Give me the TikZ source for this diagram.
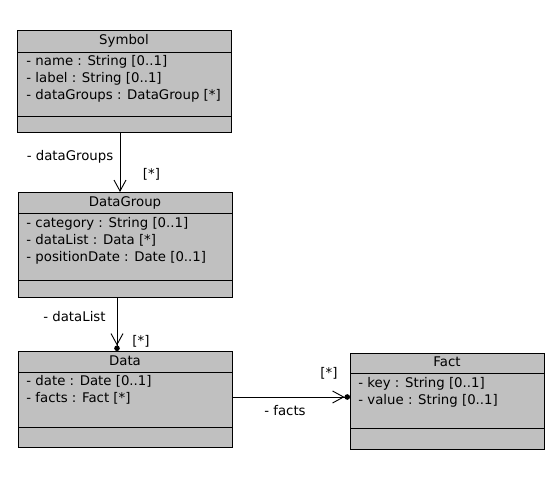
\documentclass[tikz,border=0pt]{standalone}
\usepackage{fontspec}
\setmainfont{DejaVu Sans}
\usetikzlibrary{arrows.meta}
\definecolor{umlgray}{HTML}{C0C0C0}
\begin{document}
\begin{tikzpicture}[x=1pt,y=-1pt,
  font=\fontsize{13.3}{16}\selectfont,
  line width=0.9pt,
  clsbox/.style={draw=black, fill=umlgray, inner sep=0pt, anchor=north west},
  ctitle/.style={inner sep=0pt, text height=10pt, text depth=2.7pt},
  cattr/.style={inner sep=0pt, anchor=west, text height=10pt, text depth=2.7pt},
  lbl/.style={inner sep=0pt, text height=10pt, text depth=2.7pt},
  assoc/.style={draw=black, -{Straight Barb[length=11pt,width=12pt]}},
  assocdot/.style={draw=black, -{Straight Barb[length=11pt,width=12pt] Circle[length=5.5pt]}}
]
\useasboundingbox[fill=white] (0,0) rectangle (555,500);

% Symbol
\node[clsbox, minimum width=214pt, minimum height=102pt] (symbol) at (17,30) {};
\draw (symbol.west |- 0,52) -- (symbol.east |- 0,52);
\draw (symbol.west |- 0,116) -- (symbol.east |- 0,116);
\node[ctitle] (symbolT) at (124,41) {Symbol};
\node[cattr] (symbolA1) at (26,62) {- name : String [0..1]};
\node[cattr] (symbolA2) at (26,79) {- label : String [0..1]};
\node[cattr] (symbolA3) at (26,96) {- dataGroups : DataGroup [*]};

% DataGroup
\node[clsbox, minimum width=214pt, minimum height=105pt] (datagroup) at (18,192) {};
\draw (datagroup.west |- 0,213) -- (datagroup.east |- 0,213);
\draw (datagroup.west |- 0,280) -- (datagroup.east |- 0,280);
\node[ctitle] (datagroupT) at (125,203) {DataGroup};
\node[cattr] (datagroupA1) at (26,223.5) {- category : String [0..1]};
\node[cattr] (datagroupA2) at (26,240.5) {- dataList : Data [*]};
\node[cattr] (datagroupA3) at (26,257.5) {- positionDate : Date [0..1]};

% Data
\node[clsbox, minimum width=214pt, minimum height=96pt] (data) at (18,351) {};
\draw (data.west |- 0,372) -- (data.east |- 0,372);
\draw (data.west |- 0,427) -- (data.east |- 0,427);
\node[ctitle] (dataT) at (125,362) {Data};
\node[cattr] (dataA1) at (26,382) {- date : Date [0..1]};
\node[cattr] (dataA2) at (26,399) {- facts : Fact [*]};

% Fact
\node[clsbox, minimum width=194pt, minimum height=96pt] (fact) at (350,352.5) {};
\draw (fact.west |- 0,373) -- (fact.east |- 0,373);
\draw (fact.west |- 0,428) -- (fact.east |- 0,428);
\node[ctitle] (factT) at (447,363) {Fact};
\node[cattr] (factA1) at (358,383.5) {- key : String [0..1]};
\node[cattr] (factA2) at (358,400.5) {- value : String [0..1]};

% Associations
\draw[assoc] (symbol.south -| 120,0) -- (datagroup.north -| 120,0);
\node[lbl] (l1) at (70,156.5) {- dataGroups};
\node[lbl] (m1) at (151.5,175) {[*]};

\draw[assocdot] (datagroup.south -| 117,0) -- (data.north -| 117,0);
\node[lbl] (l2) at (74.5,318) {- dataList};
\node[lbl] (m2) at (141,342) {[*]};

\draw[assocdot] (data.east |- 0,397) -- (fact.west |- 0,397);
\node[lbl] (l3) at (285,411.5) {- facts};
\node[lbl] (m3) at (329,374) {[*]};
\end{tikzpicture}
\end{document}
